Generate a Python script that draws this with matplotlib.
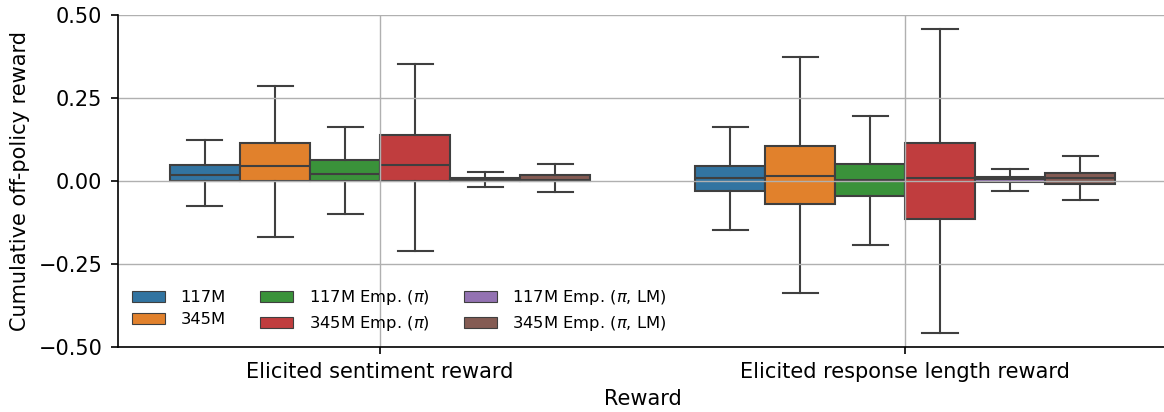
import matplotlib
matplotlib.use("Agg")
import matplotlib.pyplot as plt
from matplotlib.patches import Patch
import numpy as np

# categories on x axis and hue levels
rewards = ['Elicited sentiment reward', 'Elicited response length reward']
models = ['117M', '345M', '117M Emp. ($\\pi$)', '345M Emp. ($\\pi$)',
          '117M Emp. ($\\pi$, LM)', '345M Emp. ($\\pi$, LM)']
colors = ['#3274a1', '#e1812c', '#3a923a', '#c03d3e', '#9372b2', '#845b53']

# box summary stats, one row per reward, one value per model
whislo = [[-0.075, -0.170, -0.099, -0.212, -0.018, -0.033],
          [-0.147, -0.338, -0.193, -0.458, -0.030, -0.058]]
q1 = [[0.001, 0.001, 0.001, 0.001, 0.001, 0.001],
      [-0.030, -0.070, -0.045, -0.115, -0.002, -0.008]]
med = [[0.018, 0.044, 0.022, 0.049, 0.004, 0.004],
       [0.008, 0.016, 0.003, 0.008, 0.006, 0.008]]
q3 = [[0.048, 0.113, 0.063, 0.139, 0.008, 0.019],
      [0.046, 0.105, 0.050, 0.114, 0.011, 0.025]]
whishi = [[0.122, 0.285, 0.162, 0.352, 0.027, 0.052],
          [0.163, 0.373, 0.197, 0.459, 0.036, 0.074]]

fig = plt.figure(figsize=(11.64, 4.12), dpi=100)
ax = fig.add_axes([117.5 / 1164, 65 / 412, 1050 / 1164, 332 / 412])

n = len(models)
w = 0.8 / n
edge = '#3f3f3f'
for g in range(len(rewards)):
    for h in range(n):
        st = [dict(whislo=whislo[g][h], q1=q1[g][h], med=med[g][h],
                   q3=q3[g][h], whishi=whishi[g][h], fliers=[])]
        pos = g - 0.4 + w * (h + 0.5)
        ax.bxp(st, positions=[pos], widths=w, capwidths=w / 2,
               patch_artist=True, showfliers=False, manage_ticks=False,
               zorder=1,
               boxprops=dict(facecolor=colors[h], edgecolor=edge, linewidth=1.5),
               whiskerprops=dict(color=edge, linewidth=1.5),
               capprops=dict(color=edge, linewidth=1.5),
               medianprops=dict(color=edge, linewidth=1.5))

ax.set_xlim(-0.5, 1.5)
ax.set_ylim(-0.5, 0.5)
ax.set_xticks(range(len(rewards)))
ax.set_xticklabels(rewards)
ax.set_yticks([-0.5, -0.25, 0, 0.25, 0.5])
ax.set_yticklabels(['\u22120.50', '\u22120.25', '0.00', '0.25', '0.50'])
ax.tick_params(labelsize=15, length=5, width=1.2, pad=6)
ax.set_axisbelow('line')
ax.grid(True, color='#b0b0b0', linewidth=1)
ax.spines['top'].set_visible(False)
ax.spines['right'].set_visible(False)
ax.spines['left'].set_linewidth(1.2)
ax.spines['bottom'].set_linewidth(1.2)
ax.set_xlabel('Reward', fontsize=15, labelpad=5)
ax.set_ylabel('Cumulative off-policy reward', fontsize=15, labelpad=6)

handles = [Patch(facecolor=c, edgecolor=edge, linewidth=0.8) for c in colors]
ax.legend(handles, models, loc='lower left', ncol=3, frameon=False,
          fontsize=11.8, bbox_to_anchor=(0.0, -0.003), columnspacing=2.1,
          handletextpad=0.95, labelspacing=0.42, handlelength=2.0)

fig.savefig('out.png', dpi=100)
